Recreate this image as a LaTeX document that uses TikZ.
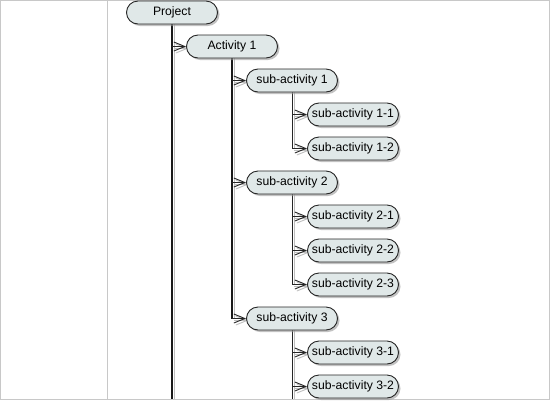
\documentclass[tikz,border=0pt]{standalone}
\usepackage{fontspec}
\setmainfont{Liberation Sans}
\usetikzlibrary{arrows.meta,shadows,backgrounds}
\definecolor{nodefill}{HTML}{E0E8E8}
\definecolor{framegray}{HTML}{C8C8C8}
\tikzset{
  act/.style={draw=black!85, line width=0.9pt, fill=nodefill, rounded corners=11.5pt,
    minimum width=91pt, minimum height=23pt, inner xsep=4pt, inner ysep=0pt,
    font=\fontsize{12.2pt}{14pt}\selectfont,
    drop shadow={shadow xshift=2pt, shadow yshift=-2pt, fill=black!40, opacity=0.6}},
  conn/.style={draw=black!85, line width=0.9pt, -{Straight Barb[length=11pt,width=9pt,line width=0.9pt]}},
  connsh/.style={draw=black!25, line width=0.9pt, transform canvas={shift={(2pt,-2pt)}}, -{Straight Barb[length=11pt,width=9pt,line width=0.9pt]}},
  trunk/.style={draw=black!90, line width=1.6pt},
  thintrunk/.style={draw=black!85, line width=1pt},
  trunksh/.style={draw=black!25, line width=1pt, transform canvas={shift={(2.5pt,0pt)}}},
}
\begin{document}
\begin{tikzpicture}[x=1pt,y=-1pt]
\useasboundingbox (0,0) rectangle (550,400);

\node[act] (p)   at (172,12.5) {Project};
\node[act] (a1)  at (232,46.5) {Activity 1};
\node[act] (s1)  at (292,80.5) {sub-activity 1};
\node[act] (s11) at (353,114.5) {sub-activity 1-1};
\node[act] (s12) at (353,148.5) {sub-activity 1-2};
\node[act] (s2)  at (292,182.5) {sub-activity 2};
\node[act] (s21) at (353,216.5) {sub-activity 2-1};
\node[act] (s22) at (353,250.5) {sub-activity 2-2};
\node[act] (s23) at (353,284.5) {sub-activity 2-3};
\node[act] (s3)  at (292,318.5) {sub-activity 3};
\node[act] (s31) at (353,352.5) {sub-activity 3-1};
\node[act] (s32) at (353,386.5) {sub-activity 3-2};

\coordinate (pend) at (p.south |- 0,399);
\coordinate (s3end) at (s3.south |- 0,399);

\begin{pgfonlayer}{background}
\draw[framegray, line width=1pt] (0.5,0.5) rectangle (549.5,399.5);
\draw[framegray, line width=1pt] (107.5,0.5) -- (107.5,399.5);
% shadows of connectors
\draw[trunksh] (p.south) -- (pend);
\draw[trunksh] (a1.south) -- (a1.south |- s3.west);
\draw[trunksh] (s1.south) -- (s1.south |- s12.west);
\draw[trunksh] (s2.south) -- (s2.south |- s23.west);
\draw[trunksh] (s3.south) -- (s3end);
\foreach \pa/\ch in {p/a1,a1/s1,a1/s2,a1/s3,s1/s11,s1/s12,s2/s21,s2/s22,s2/s23,s3/s31,s3/s32}{
  \draw[connsh] (\pa.south |- \ch.west) -- (\ch.west);
}
% connectors
\draw[trunk] (p.south) -- (pend);
\draw[trunk] (a1.south) -- (a1.south |- s3.west);
\draw[thintrunk] (s1.south) -- (s1.south |- s12.west);
\draw[thintrunk] (s2.south) -- (s2.south |- s23.west);
\draw[thintrunk] (s3.south) -- (s3end);
\foreach \pa/\ch in {p/a1,a1/s1,a1/s2,a1/s3,s1/s11,s1/s12,s2/s21,s2/s22,s2/s23,s3/s31,s3/s32}{
  \draw[conn] (\pa.south |- \ch.west) -- (\ch.west);
}
\end{pgfonlayer}
\end{tikzpicture}
\end{document}
